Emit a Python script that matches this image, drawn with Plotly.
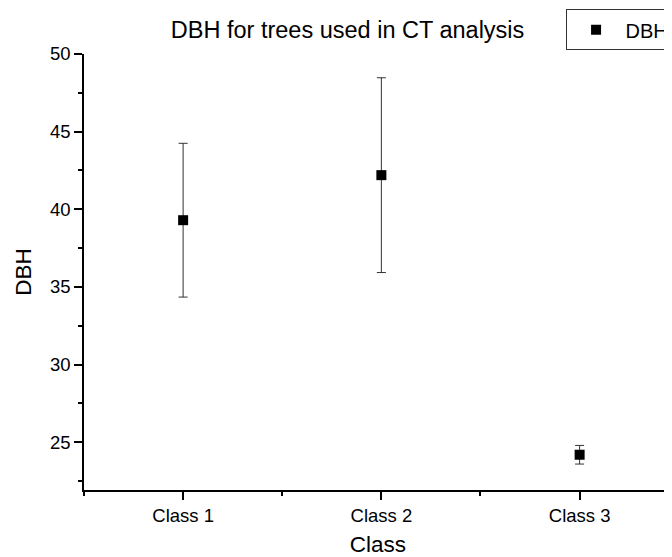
import plotly.graph_objects as go

categories = ["Class 1", "Class 2", "Class 3"]
x_pos = [1, 2, 3]
dbh_mean = [39.3, 42.2, 24.2]
dbh_err = [4.95, 6.27, 0.6]

FONT = "Arial, Liberation Sans, sans-serif"

# page body has an 8px margin; the figure overflows a little to the right so the
# x axis runs to the window edge like in the reference
W, H = 672, 549

fig = go.Figure()
fig.add_trace(go.Scatter(
    x=x_pos, y=dbh_mean, mode="markers", name="DBH",
    marker=dict(symbol="square", size=10, color="black"),
    error_y=dict(type="data", array=dbh_err, visible=True,
                 color="#333333", thickness=1, width=4.5),
))

fig.update_layout(
    width=W, height=H,
    margin=dict(l=76, r=8, t=46, b=67, autoexpand=False),
    paper_bgcolor="white", plot_bgcolor="white",
    font=dict(family=FONT, color="black", size=18.5),
    title=dict(text="DBH for trees used in CT analysis", x=339.6 / W, xref="container",
               y=1 - 22 / H, yref="container", yanchor="middle", xanchor="center",
               font=dict(size=23.5, family=FONT, color="black")),
    showlegend=True,
    legend=dict(x=0.819, y=1.1025, xanchor="left", yanchor="top",
                bordercolor="#333333", borderwidth=1, bgcolor="white",
                font=dict(size=20, family=FONT),
                itemwidth=49),
)

fig.update_xaxes(
    range=[0.5, 3.466], tickmode="array", tickvals=x_pos, ticktext=categories,
    showline=True, linecolor="black", linewidth=1.5, mirror=False,
    ticks="outside", ticklen=8, tickwidth=1.5, tickcolor="black",
    showgrid=False, zeroline=False,
    tickfont=dict(size=18.5, family=FONT),
    title=dict(text="Class", font=dict(size=22.5, family=FONT), standoff=12),
    minor=dict(tickvals=[0.5, 1.5, 2.5, 3.5], ticks="outside", ticklen=4,
               tickwidth=1.5, tickcolor="black", showgrid=False),
)
fig.update_yaxes(
    range=[21.93, 50], tick0=25, dtick=5,
    showline=True, linecolor="black", linewidth=1.5, mirror=False,
    ticks="outside", ticklen=8, tickwidth=1.5, tickcolor="black",
    showgrid=False, zeroline=False,
    tickfont=dict(size=18.5, family=FONT),
    title=dict(text="DBH", font=dict(size=22.5, family=FONT), standoff=12),
    minor=dict(tick0=22.5, dtick=5, ticks="outside", ticklen=4,
               tickwidth=1.5, tickcolor="black", showgrid=False),
)

fig.write_html("out.html")
